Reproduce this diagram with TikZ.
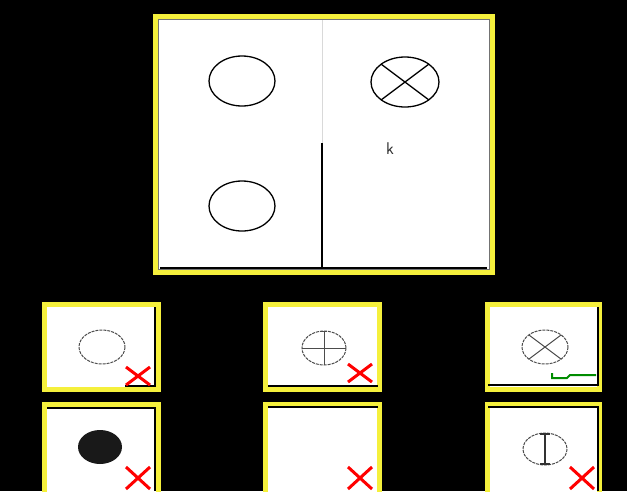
\documentclass[tikz,border=0pt]{standalone}
\begin{document}
\begin{tikzpicture}[x=1pt,y=-1pt,
  panel/.style={fill=white, draw={rgb,255:red,245;green,240;blue,60}, line width=5pt},
  rim/.style={draw=black!55, line width=0.7pt},
  rule/.style={black, line width=1.3pt},
  bigring/.style={draw=black, line width=1.3pt},
  smallring/.style={draw=black!70, line width=1pt, dash pattern=on 3pt off 1pt},
  wrong/.style={red, line width=3pt},
  right/.style={green!55!black, line width=2pt}]
\fill[black] (0,0) rectangle (627,491);
\useasboundingbox (0,0) rectangle (627,491);
% top panel
\draw[panel] (155.5,16.5) rectangle (492.5,272.5);
\draw[rim] (158.5,19.5) rectangle (489.5,269.5);
\draw[black!15, line width=1pt] (322,20) -- (322,143);
\draw[rule] (322,143) -- (322,269);
\draw[rule] (160,268) -- (487,268);
\draw[bigring] (242,81) ellipse [x radius=33, y radius=25];
\draw[bigring] (242,206) ellipse [x radius=33, y radius=25];
\draw[bigring] (405,82) ellipse [x radius=34, y radius=25];
\draw[bigring] (381,64) -- (429,100) (381,100) -- (429,64);
\node[text=black!80, font=\sffamily\fontsize{17}{17}\selectfont, inner sep=0pt] (cursor) at (390,149) {k};
% answer boxes
\draw[panel] (44.5,304.5) rectangle (158.5,389.5);
\draw[panel] (265.5,304.5) rectangle (379.5,389.5);
\draw[panel] (487.5,304.5) rectangle (599.5,389.5);
\draw[panel] (44.5,404.5) rectangle (158.5,496);
\draw[panel] (265.5,404.5) rectangle (379.5,496);
\draw[panel] (487.5,404.5) rectangle (599.5,496);
% inner rules
\draw[rule] (155,307) -- (155,386) -- (125,386);
\draw[rule] (268,386) -- (378,386);
\draw[rule] (488,385) -- (598,385) -- (598,307);
\draw[rule] (47,408) -- (155,408) -- (155,491);
\draw[rule] (268,407) -- (378,407);
\draw[rule] (488,407) -- (598,407) -- (598,491);
% figures
\draw[smallring] (102,347) ellipse [x radius=23, y radius=17];
\draw[smallring] (324,348) ellipse [x radius=22, y radius=17];
\draw[black!70, line width=1pt] (302,348) -- (346,348) (324,331) -- (324,365) (321,331) -- (327,331);
\draw[smallring] (545,347) ellipse [x radius=23, y radius=17];
\draw[black!70, line width=1pt] (529,335) -- (561,359) (529,359) -- (561,335);
\fill[black!90] (100,447) ellipse [x radius=22, y radius=17];
\draw[smallring] (545,449) ellipse [x radius=22, y radius=16];
\draw[black!80, line width=1.1pt] (545,434) -- (545,464) (540,434) -- (550,434) (540,464) -- (550,464);
% marks
\draw[wrong] (126,367) -- (150,385) (126,385) -- (150,367);
\draw[wrong] (348,364) -- (372,382) (348,382) -- (372,364);
\draw[wrong] (126,467) -- (150,489) (126,489) -- (150,467);
\draw[wrong] (348,467) -- (372,489) (348,489) -- (372,467);
\draw[wrong] (570,467) -- (594,489) (570,489) -- (594,467);
\draw[right] (552,373) -- (552,378) -- (567,378) -- (570,375) -- (596,375);
\end{tikzpicture}
\end{document}
